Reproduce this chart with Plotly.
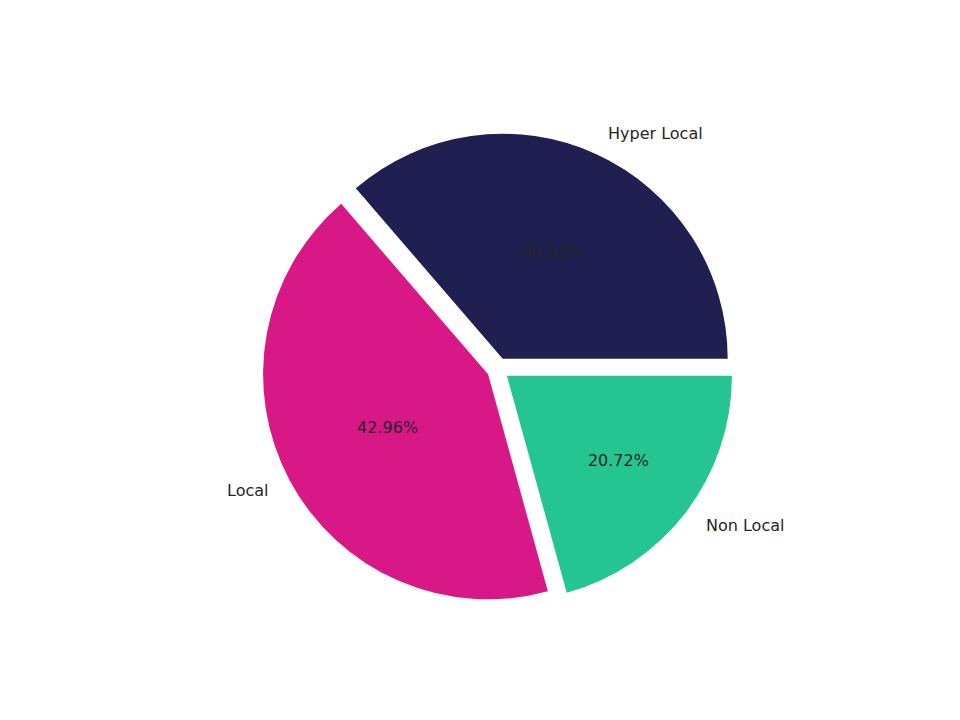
import math
import plotly.graph_objects as go

labels = ["Hyper Local", "Local", "Non Local"]
values = [36.32, 42.96, 20.72]
colors = ["#1f1f52", "#d81887", "#24c591"]
pulls = [0.05, 0.05, 0.05]

W, H = 960, 720
cx, cy, R = 490, 361, 225
half = R * 1.05

total = sum(values)
first_span = values[0] / total * 360
# matplotlib-style: first wedge starts at 3 o'clock, going counterclockwise
rot = 90 - first_span

fig = go.Figure(go.Pie(
    labels=labels, values=values, sort=False, direction="counterclockwise",
    rotation=rot, pull=pulls, marker=dict(colors=colors, line=dict(width=0)),
    textinfo="percent", texttemplate="%{percent:.2%}", textposition="inside",
    insidetextorientation="horizontal", insidetextfont=dict(color="#262626", size=16),
    domain=dict(x=[(cx - half) / W, (cx + half) / W],
                y=[(H - cy - half) / H, (H - cy + half) / H]),
    showlegend=False,
))

# outside labels placed like matplotlib's labeldistance
start = 0.0
for lab, v in zip(labels, values):
    mid = math.radians((start + v / 2) / total * 360)
    start += v
    d = 1.15 * R
    px = cx + d * math.cos(mid)
    py = cy - d * math.sin(mid)
    fig.add_annotation(x=px / W, y=1 - py / H, xref="paper", yref="paper",
                       text=lab, showarrow=False,
                       xanchor="left" if math.cos(mid) > 0 else "right",
                       yanchor="middle", font=dict(size=16, color="#262626"))

fig.update_layout(width=W, height=H, margin=dict(l=0, r=0, t=0, b=0),
                  paper_bgcolor="white", font=dict(family="DejaVu Sans"))
fig.write_html("out.html")
